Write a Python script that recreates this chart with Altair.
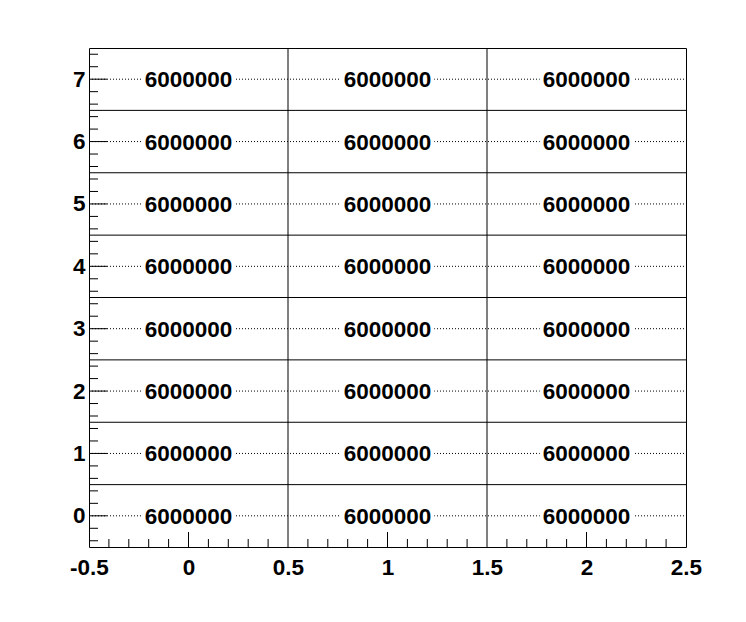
import altair as alt
import pandas as pd
import numpy as np

# data
x_bins = [0, 1, 2]
y_bins = [0, 1, 2, 3, 4, 5, 6, 7]
cell_value = 6000000
x_label_values = [-0.5, 0, 0.5, 1, 1.5, 2, 2.5]
y_label_values = [0, 1, 2, 3, 4, 5, 6, 7]
x_edges_inner = [0.5, 1.5]
y_edges_inner = [0.5, 1.5, 2.5, 3.5, 4.5, 5.5, 6.5]

W, H = 597, 499
FONT = "Liberation Sans"
FS = 22.5

cells = pd.DataFrame([{"x": xb, "y": yb, "v": cell_value,
                       "x1": xb - 0.235, "x2": xb + 0.235,
                       "y1": yb - 0.08, "y2": yb + 0.08}
                      for xb in x_bins for yb in y_bins])

xs = alt.Scale(domain=[-0.5, 2.5], nice=False, zero=False)
ys = alt.Scale(domain=[-0.5, 7.5], nice=False, zero=False)

xaxis = alt.Axis(values=x_label_values, labelExpr="'' + datum.value", ticks=False,
                 domain=False, grid=False, title=None, labelFont=FONT, labelFontWeight="bold",
                 labelFontSize=FS, labelColor="black", labelPadding=9, labelOverlap=False,
                 labelFlush=False)
yaxis = alt.Axis(values=y_label_values, labelExpr="'' + datum.value", ticks=False,
                 domain=False, grid=False, title=None, labelFont=FONT, labelFontWeight="bold",
                 labelFontSize=FS, labelColor="black", labelPadding=4, labelOverlap=False)

grid_df = pd.DataFrame({"y": y_bins})
grid = alt.Chart(grid_df).mark_rule(color="black", strokeWidth=1, strokeDash=[1, 2]).encode(
    y=alt.Y("y:Q", scale=ys, axis=yaxis), x=alt.value(0), x2=alt.value(W))

bg = alt.Chart(cells).mark_rect(color="white").encode(
    x=alt.X("x1:Q", scale=xs, axis=xaxis), x2="x2:Q",
    y=alt.Y("y1:Q", scale=ys), y2="y2:Q")

vlines = alt.Chart(pd.DataFrame({"x": x_edges_inner})).mark_rule(color="black", strokeWidth=1).encode(
    x=alt.X("x:Q", scale=xs), y=alt.value(0), y2=alt.value(H))
hlines = alt.Chart(pd.DataFrame({"y": y_edges_inner})).mark_rule(color="black", strokeWidth=1).encode(
    y=alt.Y("y:Q", scale=ys), x=alt.value(0), x2=alt.value(W))

text = alt.Chart(cells).mark_text(font=FONT, fontWeight="bold", fontSize=FS, color="black",
                                  baseline="middle", align="center", dy=1).encode(
    x=alt.X("x:Q", scale=xs), y=alt.Y("y:Q", scale=ys), text=alt.Text("v:Q", format="d"))

# ticks (inward)
x_minor = [round(v, 2) for v in np.arange(-0.4, 2.45, 0.1) if abs(round(v * 2) - v * 2) > 1e-6]
x_major = [0, 1, 2]
y_minor = [round(v, 2) for v in np.arange(-0.4, 7.45, 0.2) if abs(round(v) - v) > 1e-6]
y_major = y_bins

xt_minor = alt.Chart(pd.DataFrame({"x": x_minor})).mark_rule(color="black").encode(
    x=alt.X("x:Q", scale=xs), y=alt.value(H), y2=alt.value(H - 8))
xt_major = alt.Chart(pd.DataFrame({"x": x_major})).mark_rule(color="black").encode(
    x=alt.X("x:Q", scale=xs), y=alt.value(H), y2=alt.value(H - 15))
yt_minor = alt.Chart(pd.DataFrame({"y": y_minor})).mark_rule(color="black").encode(
    y=alt.Y("y:Q", scale=ys), x=alt.value(0), x2=alt.value(9))
yt_major = alt.Chart(pd.DataFrame({"y": y_major})).mark_rule(color="black").encode(
    y=alt.Y("y:Q", scale=ys), x=alt.value(0), x2=alt.value(18))

chart = alt.layer(grid, bg, vlines, hlines, text, xt_minor, xt_major, yt_minor, yt_major).properties(
    width=W, height=H,
    autosize=alt.AutoSizeParams(type="none"),
    padding={"left": 81, "top": 40, "right": 52, "bottom": 67},
    background="white",
).configure_view(stroke="black", strokeWidth=1)

chart.save("out.html", embed_options={"renderer": "svg", "actions": False})
